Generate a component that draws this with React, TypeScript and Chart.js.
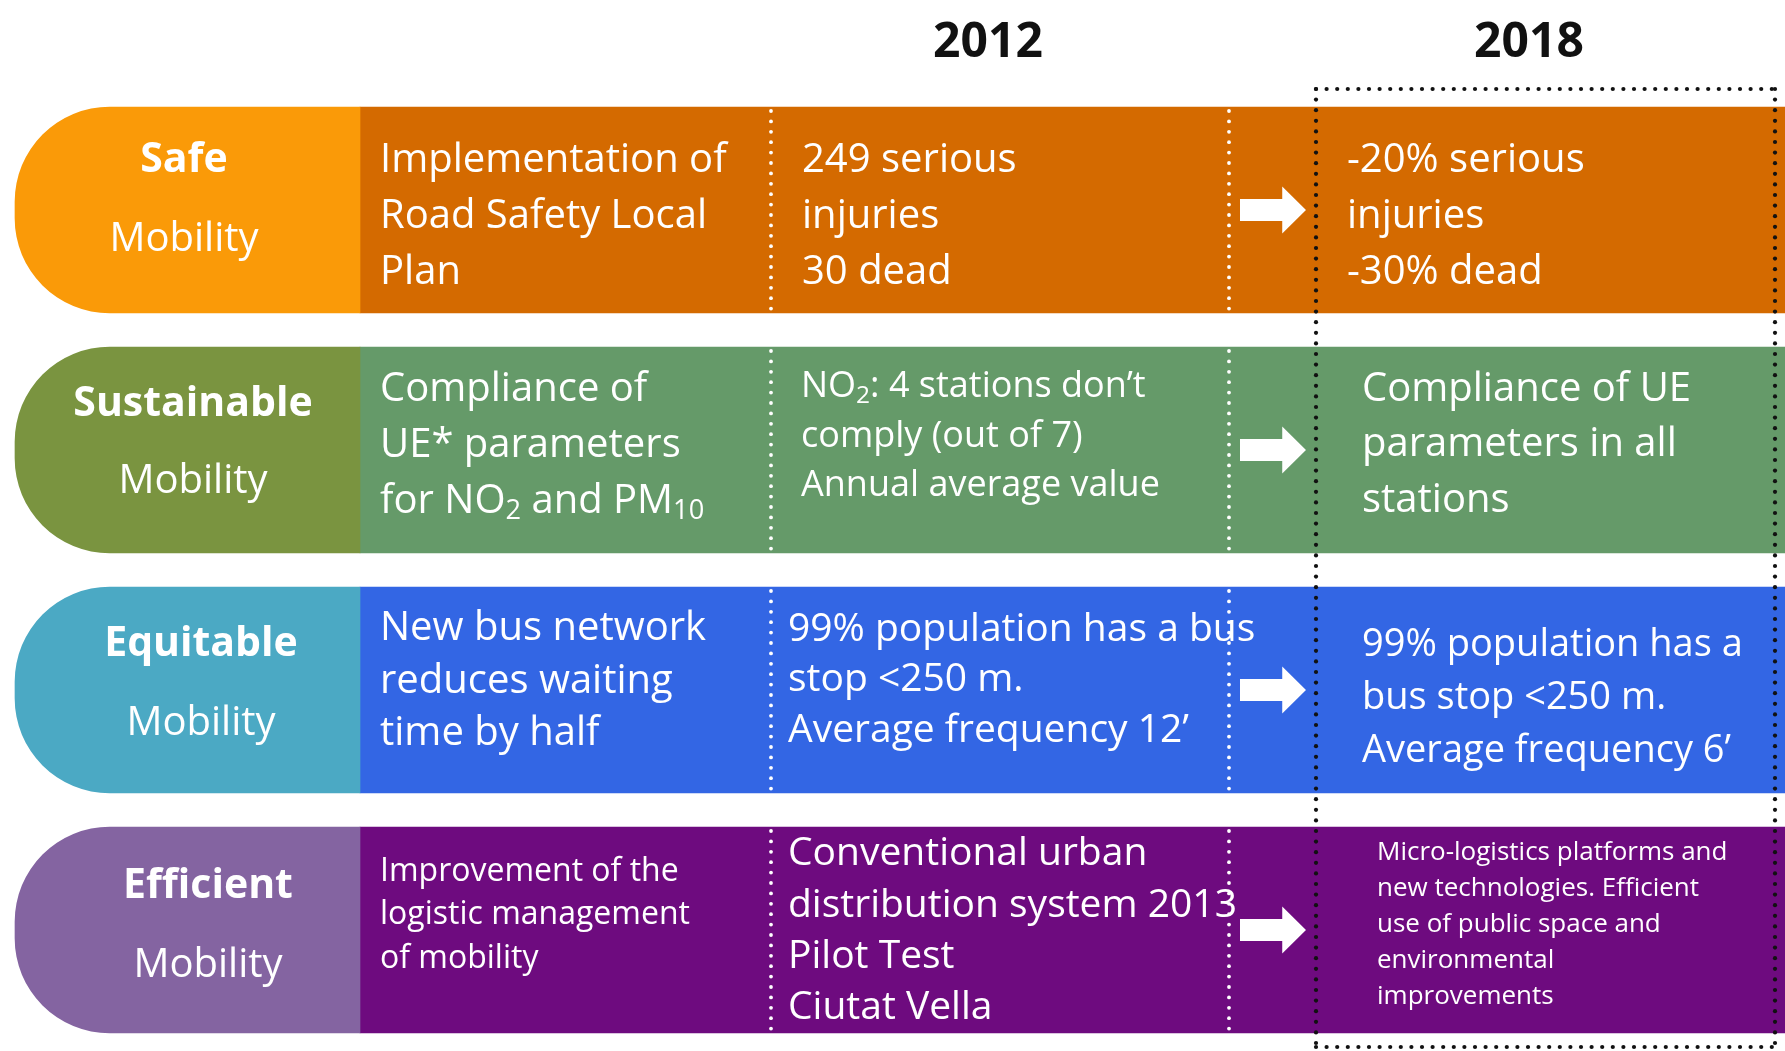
import React, { useEffect, useRef } from "react";
import { Chart, registerables } from "chart.js";

Chart.register(...registerables);

// ---------- data ----------
const CATEGORIES = ["Safe", "Sustainable", "Equitable", "Efficient"];
const CATEGORY_SUB = "Mobility";
const YEARS = ["2012", "2018"];
const PILL_RANGE: [number, number] = [15, 360];
const BAND_RANGE: [number, number] = [360, 1785];
const COLUMN_DIVIDERS = [771, 1229];
const TARGET_BOX: [number, number] = [1316, 1775];
const PILL_COLORS = ["#FA9A08", "#7A9440", "#4BA9C4", "#8464A1"];
const BAND_COLORS = ["#D46A00", "#659A69", "#3366E4", "#6E0B7F"];

const ACTIONS = [
  ["Implementation of", "Road Safety Local", "Plan"],
  ["Compliance of", "UE* parameters", "for NO_{2} and PM_{10}"],
  ["New bus network", "reduces waiting", "time by half"],
  ["Improvement of the", "logistic management", "of mobility"],
];
const STATUS_2012 = [
  ["249 serious", "injuries", "30 dead"],
  ["NO_{2}: 4 stations don’t", "comply (out of 7)", "Annual average value"],
  ["99% population has a bus", "stop <250 m.", "Average frequency 12’"],
  ["Conventional urban", "distribution system 2013", "Pilot Test", "Ciutat Vella"],
];
const TARGETS_2018 = [
  ["-20% serious", "injuries", "-30% dead"],
  ["Compliance of UE", "parameters in all", "stations"],
  ["99% population has a", "bus stop <250 m.", "Average frequency 6’"],
  [
    "Micro-logistics platforms and",
    "new technologies. Efficient",
    "use of public space and",
    "environmental",
    "improvements",
  ],
];

// ---------- layout (positions / sizes, not data) ----------
const W = 1785;
const H = 1051;
const FONT = '"Open Sans", "Liberation Sans", sans-serif';
const LABEL_X = [184, 193, 201, 208];
const LABEL_DY = [
  [-53, 27],
  [-49, 29],
  [-49, 31],
  [-47, 33],
];
const COL_X = [
  [380, 802, 1347],
  [380, 801, 1362],
  [380, 788, 1362],
  [380, 788, 1377],
];
// [first line cap-centre offset from row centre, line pitch, font size]
const BLOCK = [
  [
    [-52, 56, 40],
    [-52, 56, 40],
    [-52, 56, 40],
  ],
  [
    [-63.5, 56, 40],
    [-65.5, 49.5, 36],
    [-63.5, 55.5, 40],
  ],
  [
    [-64, 52.5, 40],
    [-63, 50.5, 39],
    [-48, 53, 38],
  ],
  [
    [-60.5, 43.5, 32],
    [-78.5, 51.3, 39],
    [-79.5, 36, 26],
  ],
];
const HEADER_X = [988, 1529];
const HEADER_Y = 40;

function drawRich(
  ctx: CanvasRenderingContext2D,
  text: string,
  x: number,
  capCenterY: number,
  size: number,
  weight: string
) {
  const baseline = capCenterY + 0.357 * size;
  const parts = text.split(/(_\{[^}]*\})/);
  let cx = x;
  for (const p of parts) {
    if (!p) continue;
    if (p.startsWith("_{")) {
      const s = p.slice(2, -1);
      const ss = size * 0.68;
      ctx.font = `${weight} ${ss}px ${FONT}`;
      ctx.fillText(s, cx, baseline + size * 0.16);
      cx += ctx.measureText(s).width;
    } else {
      ctx.font = `${weight} ${size}px ${FONT}`;
      ctx.fillText(p, cx, baseline);
      cx += ctx.measureText(p).width;
    }
  }
}

function dots(
  ctx: CanvasRenderingContext2D,
  x1: number,
  y1: number,
  x2: number,
  y2: number,
  step: number,
  r: number,
  color: string
) {
  const len = Math.hypot(x2 - x1, y2 - y1);
  const n = Math.floor(len / step);
  ctx.fillStyle = color;
  for (let i = 0; i <= n; i++) {
    const t = (i * step) / len;
    ctx.beginPath();
    ctx.arc(x1 + (x2 - x1) * t, y1 + (y2 - y1) * t, r, 0, Math.PI * 2);
    ctx.fill();
  }
}

const overlayPlugin = {
  id: "overlay",
  afterDatasetsDraw(chart: any) {
    const ctx: CanvasRenderingContext2D = chart.ctx;
    const xs = chart.scales.x;
    const meta = chart.getDatasetMeta(1);
    ctx.save();

    // headers
    ctx.fillStyle = "#111111";
    ctx.textAlign = "center";
    YEARS.forEach((yr, i) => {
      ctx.font = `bold 48px ${FONT}`;
      ctx.fillText(yr, HEADER_X[i], HEADER_Y + 0.357 * 48);
    });

    meta.data.forEach((el: any, i: number) => {
      const cy = el.y;
      const top = el.y - el.height / 2;
      const bottom = el.y + el.height / 2;

      // white dotted column dividers
      COLUMN_DIVIDERS.forEach((dx) => {
        const px = xs.getPixelForValue(dx);
        dots(ctx, px, top + 4, px, bottom - 2, 10.4, 1.9, "#FFFFFF");
      });

      // arrow
      const ax0 = xs.getPixelForValue(COLUMN_DIVIDERS[1]) + 11;
      const ax1 = xs.getPixelForValue(TARGET_BOX[0]) - 10;
      const shaftEnd = ax0 + (ax1 - ax0) * 0.64;
      ctx.fillStyle = "#FFFFFF";
      ctx.beginPath();
      ctx.moveTo(ax0, cy - 11);
      ctx.lineTo(shaftEnd, cy - 11);
      ctx.lineTo(shaftEnd, cy - 23.5);
      ctx.lineTo(ax1, cy);
      ctx.lineTo(shaftEnd, cy + 23.5);
      ctx.lineTo(shaftEnd, cy + 11);
      ctx.lineTo(ax0, cy + 11);
      ctx.closePath();
      ctx.fill();

      // category label
      ctx.fillStyle = "#FFFFFF";
      ctx.textAlign = "center";
      ctx.font = `bold 41px ${FONT}`;
      ctx.fillText(CATEGORIES[i], LABEL_X[i], cy + LABEL_DY[i][0] + 0.357 * 41);
      ctx.font = `normal 40px ${FONT}`;
      ctx.fillText(CATEGORY_SUB, LABEL_X[i], cy + LABEL_DY[i][1] + 0.357 * 40);

      // column texts
      ctx.textAlign = "left";
      [ACTIONS[i], STATUS_2012[i], TARGETS_2018[i]].forEach((lines, c) => {
        const [dy0, pitch, size] = BLOCK[i][c];
        lines.forEach((ln, k) => {
          drawRich(ctx, ln, COL_X[i][c], cy + dy0 + k * pitch, size, "normal");
        });
      });
    });

    // black dotted target box
    const first = meta.data[0];
    const last = meta.data[meta.data.length - 1];
    const bt = first.y - first.height / 2 - 18;
    const bb = last.y + last.height / 2 + 14;
    const bl = xs.getPixelForValue(TARGET_BOX[0]);
    const br = xs.getPixelForValue(TARGET_BOX[1]);
    dots(ctx, bl, bt, br, bt, 10.6, 2.1, "#111111");
    dots(ctx, bl, bb, br, bb, 10.6, 2.1, "#111111");
    dots(ctx, bl, bt, bl, bb, 10.6, 2.1, "#111111");
    dots(ctx, br, bt, br, bb, 10.6, 2.1, "#111111");

    ctx.restore();
  },
};

export default function App() {
  const ref = useRef<HTMLCanvasElement>(null);

  useEffect(() => {
    document.body.style.margin = "0";
    const canvas = ref.current!;
    const chart = new Chart(canvas, {
      type: "bar",
      data: {
        labels: CATEGORIES,
        datasets: [
          {
            label: "category",
            data: CATEGORIES.map(() => PILL_RANGE) as any,
            backgroundColor: PILL_COLORS,
            borderWidth: 0,
            borderSkipped: false,
            borderRadius: { topLeft: 95, bottomLeft: 95, topRight: 0, bottomRight: 0 },
            barThickness: 206,
            grouped: false,
          } as any,
          {
            label: "band",
            data: CATEGORIES.map(() => BAND_RANGE) as any,
            backgroundColor: BAND_COLORS,
            borderWidth: 0,
            borderSkipped: false,
            borderRadius: 0,
            barThickness: 206,
            grouped: false,
          } as any,
        ],
      },
      options: {
        responsive: false,
        animation: false,
        indexAxis: "y",
        events: [],
        layout: { padding: { top: 90, bottom: 1, left: 0, right: 0 } },
        scales: {
          x: { type: "linear", min: 0, max: W, display: false },
          y: { type: "category", display: false },
        },
        plugins: {
          legend: { display: false },
          tooltip: { enabled: false },
        },
      } as any,
      plugins: [overlayPlugin],
    });
    return () => chart.destroy();
  }, []);

  return (
    <div style={{ width: W, height: H, background: "#FFFFFF" }}>
      <canvas ref={ref} width={W} height={H} style={{ display: "block" }} />
    </div>
  );
}
